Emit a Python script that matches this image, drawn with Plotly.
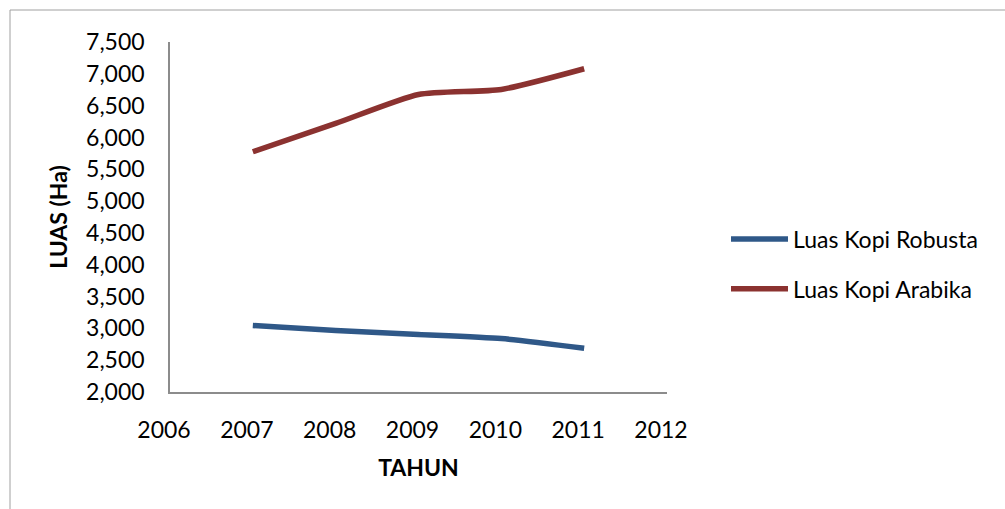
import plotly.graph_objects as go

years = [2007, 2008, 2009, 2010, 2011]
robusta = [3045, 2965, 2905, 2840, 2688]
arabika = [5775, 6220, 6675, 6755, 7080]

x_ticks = [2006, 2007, 2008, 2009, 2010, 2011, 2012]
y_ticks = list(range(2000, 7501, 500))

W, H = 1005, 509
ML, MR, MT, MB = 170, 338, 42, 117
FONT = "Lato"
FS = 23

fig = go.Figure()
fig.add_trace(go.Scatter(x=years, y=robusta, mode="lines", name="Luas Kopi Robusta",
                         legendgroup="r",
                         line=dict(color="#2F5888", width=5.5, shape="spline", smoothing=0.6)))
fig.add_trace(go.Scatter(x=years, y=arabika, mode="lines", name="Luas Kopi Arabika",
                         legendgroup="a",
                         line=dict(color="#8B3230", width=5.5, shape="spline", smoothing=0.6)))

pw = W - ML - MR
ph = H - MT - MB
def px2paperx(px):
    return (px - ML) / pw
def px2papery(py):
    return (H - MB - py) / ph

fig.update_layout(
    width=W, height=H,
    margin=dict(l=ML, r=MR, t=MT, b=MB),
    paper_bgcolor="white", plot_bgcolor="white",
    font=dict(family=FONT, size=FS, color="#000000"),
    showlegend=True,
    legend=dict(x=px2paperx(726), y=px2papery(264), xanchor="left", yanchor="middle",
                font=dict(family=FONT, size=FS), tracegroupgap=17, itemwidth=57,
                bgcolor="rgba(0,0,0,0)"),
    xaxis=dict(range=[2006, 2012], tickmode="array", tickvals=x_ticks,
               ticktext=[str(v) for v in x_ticks], showgrid=False, zeroline=False,
               showline=True, linecolor="#8c8c8c", linewidth=1.5, ticks="",
               ticklabelstandoff=17, ticklabelshift=-6,
               title=dict(text="<b>TAHUN</b>", font=dict(family=FONT, size=FS), standoff=18)),
    yaxis=dict(range=[2000, 7500], tickmode="array", tickvals=y_ticks,
               ticktext=[f"{v:,}" for v in y_ticks], showgrid=False, zeroline=False,
               showline=True, linecolor="#8c8c8c", linewidth=1.5, ticks="",
               ticklabelstandoff=19,
               title=dict(text="<b>LUAS (Ha)</b>", font=dict(family=FONT, size=FS), standoff=12)),
    shapes=[dict(type="rect", xref="paper", yref="paper",
                 x0=px2paperx(10), x1=px2paperx(1020), y0=px2papery(520), y1=px2papery(10),
                 line=dict(color="#a0a0a0", width=1), layer="below")],
)

fig.write_html("out.html")
